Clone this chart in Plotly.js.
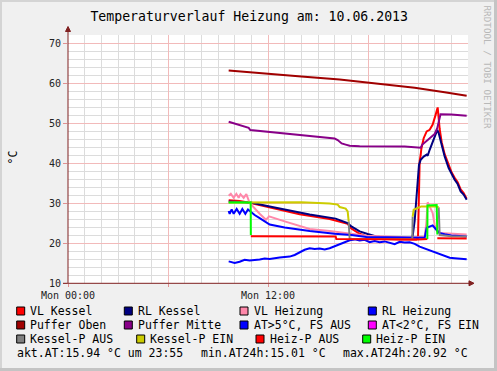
<!DOCTYPE html>
<html><head><meta charset="utf-8">
<script src="https://cdn.plot.ly/plotly-3.0.1.min.js"></script>
<style>html,body{margin:0;padding:0;background:#f0f0f0;}#chart{width:497px;height:371px;}</style>
</head><body><div id="chart"></div>
<script>
// time axis: hours since Mon 00:00 (10.06.2013)
const xTickVals = [0, 6, 12, 18];
const xTickText = ["Mon 00:00", "", "Mon 12:00", ""];
const yTickVals = [10, 20, 30, 40, 50, 60, 70];

const vlKesselT = [9.64, 10.3, 10.96, 12.1, 13.9, 15.7, 16.6, 16.78, 17.0, 17.5, 18.1, 19.0, 20.0, 20.9, 21.0, 21.06, 21.1, 21.16, 21.2, 21.34, 21.52, 21.7, 21.88, 22.06, 22.18, 22.3, 22.42, 22.6, 22.84, 23.02, 23.2, 23.38, 23.56, 23.74, 23.92];
const vlKesselV = [30.7, 30.5, 30.0, 28.9, 27.2, 26.0, 25.1, 24.8, 23.6, 22.3, 21.3, 21.0, 20.9, 20.9, 21.3, 30.5, 40.5, 42.0, 43.5, 46.2, 47.9, 48.3, 49.6, 52.1, 53.9, 48.5, 45.2, 42.2, 39.3, 37.6, 36.3, 35.2, 33.4, 32.5, 31.1];

const rlKesselT = [9.64, 10.3, 10.96, 12.1, 13.9, 14.5, 16.06, 16.6, 16.78, 17.0, 17.5, 17.98, 18.5, 19.0, 20.0, 20.6, 20.68, 20.8, 20.9, 20.98, 21.06, 21.16, 21.34, 21.52, 21.58, 21.7, 21.88, 22.06, 22.16, 22.24, 22.42, 22.6, 22.84, 23.02, 23.2, 23.38, 23.56, 23.74, 23.92];
const rlKesselV = [30.4, 30.3, 30.1, 29.1, 27.6, 27.1, 26.1, 25.4, 25.0, 24.15, 22.9, 22.25, 21.65, 21.4, 21.2, 21.3, 21.8, 25.5, 31.5, 35.0, 39.6, 40.8, 41.6, 42.1, 41.8, 43.3, 45.4, 47.1, 48.3, 47.5, 44.6, 41.65, 38.75, 37.1, 35.8, 34.75, 32.9, 32.1, 30.8];

const vlHeizungT = [9.64, 9.77, 9.94, 10.1, 10.24, 10.35, 10.54, 10.7, 10.9, 11.2, 11.5, 11.88, 12.06, 13.0, 14.5, 15.7, 16.9, 17.9, 19.0, 20.0, 20.68, 21.4, 21.5, 21.58, 21.7, 21.88, 22.0, 22.16, 22.3, 23.0, 23.92];
const vlHeizungV = [31.8, 32.3, 31.3, 32.3, 31.3, 32.2, 31.3, 32.2, 30.0, 28.6, 27.3, 25.8, 26.65, 25.4, 23.5, 23.0, 22.3, 21.8, 21.6, 21.5, 21.4, 21.6, 25.0, 30.2, 29.0, 27.5, 24.5, 22.8, 22.5, 22.3, 22.1];

const rlHeizungT = [9.64, 9.7, 9.82, 9.94, 10.12, 10.3, 10.46, 10.64, 10.8, 10.96, 11.2, 11.5, 11.9, 12.1, 13.0, 13.9, 14.5, 16.0, 17.0, 17.9, 19.0, 20.0, 20.68, 21.4, 21.52, 21.7, 21.88, 22.06, 22.3, 22.6, 23.0, 23.92];
const rlHeizungV = [28.0, 27.3, 28.4, 27.3, 28.5, 27.3, 28.5, 27.3, 28.4, 27.8, 27.0, 26.2, 25.1, 24.6, 23.9, 23.3, 23.0, 22.3, 22.0, 21.5, 21.4, 21.3, 21.25, 21.3, 23.8, 24.2, 24.4, 23.5, 22.5, 22.2, 21.9, 21.6];

const pufferObenT = [9.64, 12.1, 14.0, 16.3, 17.9, 19.5, 20.8, 22.6, 23.92];
const pufferObenV = [63.1, 62.2, 61.6, 60.9, 60.2, 59.5, 58.8, 57.7, 56.8];

const pufferMitteT = [9.64, 10.06, 10.6, 10.84, 10.94, 12.1, 14.0, 15.7, 16.0, 16.18, 16.42, 16.66, 16.9, 17.5, 19.0, 20.2, 21.16, 21.26, 21.6, 22.0, 22.16, 22.3, 22.35, 23.0, 23.92];
const pufferMitteV = [50.3, 49.75, 49.1, 48.8, 48.25, 47.8, 47.0, 46.25, 46.1, 45.75, 44.9, 44.6, 44.3, 44.2, 44.2, 44.1, 43.8, 44.6, 45.8, 47.25, 48.75, 51.65, 52.2, 52.1, 51.8];

// outside temperature (AT > 5 °C, FS AUS)
const atT = [9.64, 9.76, 10.0, 10.3, 10.6, 10.9, 11.2, 11.5, 11.8, 12.1, 12.7, 13.3, 13.6, 13.9, 14.2, 14.5, 14.8, 15.1, 15.4, 15.7, 16.0, 16.3, 16.6, 16.9, 17.2, 17.5, 17.8, 18.1, 18.4, 18.7, 19.0, 19.3, 19.6, 19.9, 20.2, 20.5, 20.8, 21.1, 21.4, 21.7, 22.0, 22.3, 22.6, 22.9, 23.2, 23.5, 23.8, 23.92];
const atV = [15.4, 15.2, 15.0, 15.3, 15.8, 15.6, 15.7, 15.9, 16.1, 16.0, 16.4, 16.6, 17.0, 17.7, 18.3, 18.7, 18.5, 18.6, 18.4, 18.7, 19.2, 19.9, 20.3, 20.7, 20.9, 20.6, 20.8, 20.2, 20.5, 20.2, 20.4, 20.0, 19.7, 20.3, 20.1, 20.2, 19.8, 19.1, 18.6, 18.2, 17.6, 17.1, 16.6, 16.3, 16.2, 16.1, 16.0, 15.94];
const atColdT = [];
const atColdV = [];

const kesselPAusT = [16.84, 16.9, 18.0, 20.0, 20.66, 20.68, null, 22.24, 22.3, 23.0, 23.92];
const kesselPAusV = [25.4, 21.0, 21.0, 20.9, 21.0, 26.6, null, 28.9, 22.0, 21.7, 21.6];
const kesselPEinT = [9.64, 12.0, 14.0, 15.7, 16.18, 16.3, 16.66, 16.78, 16.84, null, 20.68, 20.74, 20.98, 21.2, 22.1, 22.24];
const kesselPEinV = [30.15, 30.1, 30.2, 29.9, 29.6, 29.0, 28.6, 27.9, 25.4, null, 26.6, 28.3, 28.75, 29.15, 29.15, 28.9];

const heizPAusT = [10.97, 12.0, 14.0, 16.06, 16.1, 18.0, 20.0, 21.0, 21.56, null, 22.16, 23.0, 23.92];
const heizPAusV = [21.7, 21.7, 21.65, 21.6, 21.0, 20.9, 20.8, 20.9, 21.0, null, 21.2, 21.1, 21.1];
const heizPEinT = [9.64, 10.96, 10.97, null, 21.56, 21.57, 22.12, 22.16];
const heizPEinV = [30.15, 30.15, 22.0, null, 21.0, 29.4, 29.5, 22.1];

const seriesNames = ["VL Kessel", "RL Kessel", "VL Heizung", "RL Heizung", "Puffer Oben", "Puffer Mitte",
  "AT>5°C, FS AUS", "AT<2°C, FS EIN", "Kessel-P AUS", "Kessel-P EIN", "Heiz-P AUS", "Heiz-P EIN"];
const seriesT = [vlKesselT, rlKesselT, vlHeizungT, rlHeizungT, pufferObenT, pufferMitteT, atT, atColdT, kesselPAusT, kesselPEinT, heizPAusT, heizPEinT];
const seriesV = [vlKesselV, rlKesselV, vlHeizungV, rlHeizungV, pufferObenV, pufferMitteV, atV, atColdV, kesselPAusV, kesselPEinV, heizPAusV, heizPEinV];
const commentTexts = ["akt.AT:15.94 °C um 23:55", "min.AT24h:15.01 °C", "max.AT24h:20.92 °C"];

// ---- styles / layout ----
const seriesColors = ["#ff0000", "#000080", "#ff88aa", "#0000ff", "#a00000", "#880088",
  "#0000ff", "#ff00ff", "#808080", "#cccc00", "#ff0000", "#00ff00"];
const W = 497, H = 371, ML = 68, MR = 29, MT = 35, MB = 88;
const PW = W - ML - MR, PH = H - MT - MB;
const px = x => (x - ML) / PW;
const py = y => (H - MB - y) / PH;
const FONT = "DejaVu Sans Mono";
const AXC = "#802020";

const traces = seriesNames.map((n, i) => ({
  type: "scatter", mode: "lines", name: n, x: seriesT[i], y: seriesV[i],
  line: {color: seriesColors[i], width: 2}, connectgaps: false, showlegend: false, hoverinfo: "skip"
}));

const legendRows = [
  {y: 311, sq: [16.7, 124.3, 240, 368.3]},
  {y: 325, sq: [16.7, 124.3, 240, 368.3]},
  {y: 339, sq: [16.7, 136.7, 256, 362.7]}
];
const shapes = [], annotations = [];
legendRows.forEach((row, r) => {
  row.sq.forEach((sx, c) => {
    const i = r * 4 + c;
    shapes.push({type: "rect", xref: "paper", yref: "paper", x0: px(sx), x1: px(sx + 8),
      y0: py(row.y + 4), y1: py(row.y - 4), fillcolor: seriesColors[i], line: {color: "#000", width: 1}, layer: "above"});
    annotations.push({xref: "paper", yref: "paper", x: px(sx + 11.5), y: py(row.y), xanchor: "left", yanchor: "middle",
      text: seriesNames[i], showarrow: false, font: {family: FONT, size: 11.5, color: "#000"}});
  });
});
[15, 198.5, 340.8].forEach((cx, k) => {
  annotations.push({xref: "paper", yref: "paper", x: px(cx), y: py(353), xanchor: "left", yanchor: "middle",
    text: commentTexts[k], showarrow: false, font: {family: FONT, size: 11.5, color: "#000"}});
});
annotations.push({xref: "paper", yref: "paper", x: px(12.5), y: py(157), text: "°C", textangle: -90, showarrow: false,
  xanchor: "center", yanchor: "middle", font: {family: FONT, size: 11.5, color: "#000"}});
annotations.push({xref: "paper", yref: "paper", x: px(487.5), y: py(67), text: "RRDTOOL / TOBI OETIKER", textangle: 90, showarrow: false,
  xanchor: "center", yanchor: "middle", font: {family: FONT, size: 9.3, color: "#b8b8b8"}});

// axis extensions + arrowheads
shapes.push({type: "line", xref: "paper", yref: "paper", x0: px(68), x1: px(68), y0: py(283), y1: py(30), line: {color: AXC, width: 1}, layer: "above"});
shapes.push({type: "path", xref: "paper", yref: "paper", path: `M${px(65.5)},${py(31.5)} L${px(68)},${py(26.5)} L${px(70.5)},${py(31.5)} Z`, fillcolor: AXC, line: {color: AXC, width: 1}, layer: "above"});
shapes.push({type: "line", xref: "paper", yref: "paper", x0: px(63), x1: px(470), y0: py(283.3), y1: py(283.3), line: {color: AXC, width: 1}, layer: "above"});
shapes.push({type: "path", xref: "paper", yref: "paper", path: `M${px(469)},${py(280.8)} L${px(474)},${py(283.3)} L${px(469)},${py(285.8)} Z`, fillcolor: AXC, line: {color: AXC, width: 1}, layer: "above"});
// frame
shapes.push({type: "rect", xref: "paper", yref: "paper", x0: px(0), x1: px(2), y0: py(0), y1: py(H), fillcolor: "#d4d4d4", line: {width: 0}, layer: "above"});
shapes.push({type: "rect", xref: "paper", yref: "paper", x0: px(0), x1: px(W), y0: py(0), y1: py(2), fillcolor: "#d4d4d4", line: {width: 0}, layer: "above"});
shapes.push({type: "rect", xref: "paper", yref: "paper", x0: px(494), x1: px(W), y0: py(0), y1: py(H), fillcolor: "#c4c4c4", line: {width: 0}, layer: "above"});
shapes.push({type: "rect", xref: "paper", yref: "paper", x0: px(0), x1: px(W), y0: py(368), y1: py(H), fillcolor: "#c4c4c4", line: {width: 0}, layer: "above"});

const layout = {
  width: W, height: H, margin: {l: ML, r: MR, t: MT, b: MB, pad: 0},
  paper_bgcolor: "#f0f0f0", plot_bgcolor: "#ffffff",
  title: {text: "Temperaturverlauf Heizung am: 10.06.2013", x: 249.2 / W, xanchor: "center", y: 1 - 16.5 / H, yanchor: "middle",
    font: {family: FONT, size: 13.2, color: "#000"}},
  xaxis: {range: [0, 24], tickmode: "array", tickvals: xTickVals, ticktext: xTickText,
    showgrid: true, gridcolor: "#f2baba", gridwidth: 1, zeroline: false, showline: false,
    ticks: "outside", ticklen: 3, tickcolor: "#e09090",
    tickfont: {family: FONT, size: 10, color: "#222"},
    minor: {tickmode: "linear", tick0: 0, dtick: 1, showgrid: true, gridcolor: "#dcdcdc", gridwidth: 1}},
  yaxis: {range: [10, 72], tickmode: "array", tickvals: yTickVals,
    showgrid: true, gridcolor: "#f2baba", gridwidth: 1, zeroline: false, showline: false,
    ticks: "outside", ticklen: 4, tickcolor: "#e09090",
    tickfont: {family: FONT, size: 10, color: "#222"},
    minor: {tickmode: "linear", tick0: 10, dtick: 2, showgrid: true, gridcolor: "#dcdcdc", gridwidth: 1}},
  shapes: shapes, annotations: annotations, showlegend: false
};
Plotly.newPlot("chart", traces, layout, {displayModeBar: false, staticPlot: true});
</script></body></html>
